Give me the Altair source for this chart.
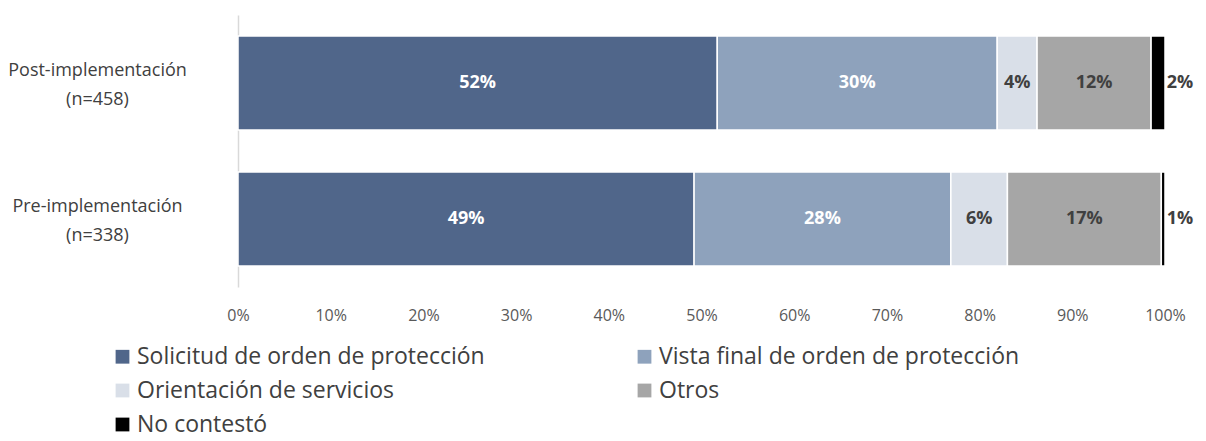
import altair as alt
import pandas as pd

groups = ["Post-implementación (n=458)", "Pre-implementación (n=338)"]
categories = [
    "Solicitud de orden de protección",
    "Vista final de orden de protección",
    "Orientación de servicios",
    "Otros",
    "No contestó",
]
post_values = [51.7, 30.2, 4.3, 12.3, 1.5]
pre_values = [49.2, 27.7, 6.1, 16.6, 0.4]
post_labels = ["52%", "30%", "4%", "12%", "2%"]
pre_labels = ["49%", "28%", "6%", "17%", "1%"]
colors = ["#50668A", "#8EA2BC", "#D9DFE8", "#A6A6A6", "#000000"]
label_colors = ["#FFFFFF", "#FFFFFF", "#404040", "#404040", "#404040"]
x_ticks = [0, 10, 20, 30, 40, 50, 60, 70, 80, 90, 100]

rows = []
for g, vals, labs in [(groups[0], post_values, post_labels), (groups[1], pre_values, pre_labels)]:
    for i, (c, v, l) in enumerate(zip(categories, vals, labs)):
        rows.append({"group": g, "category": c, "order": i, "value": v,
                     "label": l, "lcolor": label_colors[i]})
df = pd.DataFrame(rows)

base = alt.Chart(df).transform_stack(
    stack="value", groupby=["group"], as_=["x0", "x1"],
    sort=[alt.SortField("order", order="ascending")],
).transform_calculate(mid="(datum.x0 + datum.x1) / 2")

y_enc = alt.Y(
    "group:N", sort=groups,
    scale=alt.Scale(paddingInner=0.31, paddingOuter=0.155),
    axis=alt.Axis(
        title=None, ticks=False, domainColor="#D9D9D9", domainWidth=1.5,
        labelAlign="center", labelPadding=141, labelFontSize=18,
        labelColor="#404040", labelLineHeight=29, labelOffset=-12,
        labelExpr="[split(datum.label, ' (')[0], '(' + split(datum.label, ' (')[1]]",
    ),
)

x_enc = alt.X(
    "x0:Q", scale=alt.Scale(domain=[0, 100], nice=False),
    axis=alt.Axis(
        title=None, values=x_ticks, grid=False, domain=False, ticks=False,
        labelPadding=20, labelFontSize=16, labelColor="#595959",
        labelFlush=False, labelExpr="datum.value + '%'",
    ),
)

bars = base.mark_bar(stroke="white", strokeWidth=1.5).encode(
    x=x_enc,
    x2="x1:Q",
    y=y_enc,
    color=alt.Color(
        "category:N", sort=categories,
        scale=alt.Scale(domain=categories, range=colors),
        legend=alt.Legend(
            title=None, orient="none", legendX=-127, legendY=330,
            columns=2, direction="horizontal", columnPadding=148, rowPadding=10,
            symbolType="square", symbolSize=190, symbolStrokeWidth=0,
            labelFontSize=23, labelColor="#404040", labelOffset=3, labelLimit=0,
        ),
    ),
)

inner_text = base.transform_filter(
    alt.datum.category != "No contestó"
).mark_text(fontWeight="bold", fontSize=18).encode(
    x="mid:Q",
    y=alt.Y("group:N", sort=groups),
    text="label:N",
    color=alt.Color("lcolor:N", scale=None),
)

outer_text = base.transform_filter(
    alt.datum.category == "No contestó"
).mark_text(fontWeight="bold", fontSize=18, dx=15, color="#404040").encode(
    x="x1:Q",
    y=alt.Y("group:N", sort=groups),
    text="label:N",
)

chart = alt.layer(bars, inner_text, outer_text).properties(
    width=927, height=272,
    autosize=alt.AutoSizeParams(type="none"),
    padding={"left": 230, "top": 7, "right": 30, "bottom": 146},
).configure(font="Open Sans").configure_view(stroke=None)

chart.save("out.html", embed_options={"renderer": "svg", "actions": False})
